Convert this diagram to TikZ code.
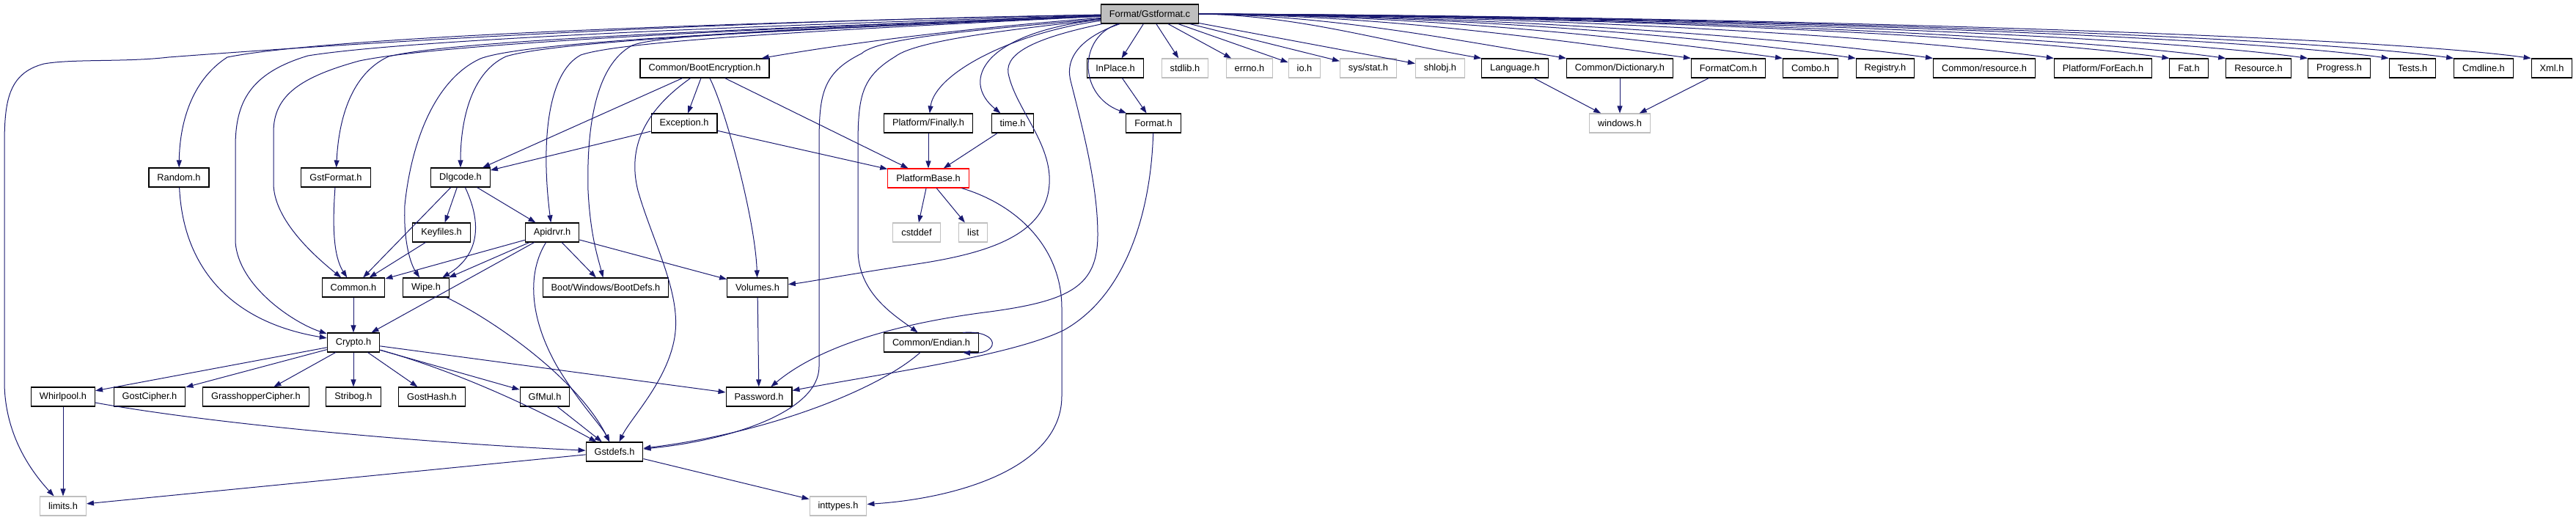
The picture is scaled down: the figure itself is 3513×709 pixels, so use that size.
\documentclass[tikz,border=0pt]{standalone}
\usepackage{fontspec}
\setmainfont{Liberation Sans}
\usetikzlibrary{arrows.meta}
\definecolor{edgeblue}{HTML}{191970}
\definecolor{extgray}{HTML}{BFBFBF}

\begin{document}
\begin{tikzpicture}[x=1pt, y=-1pt,
  filebox/.style={draw=black, line width=1.1pt, fill=white, inner xsep=11.5pt, inner ysep=0pt, minimum height=26pt, font=\fontsize{12.8}{15}\selectfont},
  extbox/.style={filebox, draw=extgray},
  rootbox/.style={filebox, fill=extgray},
  redbox/.style={filebox, draw=red},
  dep/.style={-{Triangle[length=10pt,width=7pt]}, draw=edgeblue, line width=1pt}
]
\useasboundingbox (0,0) rectangle (3513,709);

% Root
\node[rootbox] (root) at (1568,19) {Format/Gstformat.c};

% Row 1
\node[filebox] (bootenc) at (961,93) {Common/BootEncryption.h};
\node[filebox] (inplace) at (1521,93) {InPlace.h};
\node[extbox] (stdlib) at (1616,93) {stdlib.h};
\node[extbox] (errno) at (1704,93) {errno.h};
\node[extbox] (io) at (1779,93) {io.h};
\node[extbox] (sysstat) at (1866,93) {sys/stat.h};
\node[extbox] (shlobj) at (1964,93) {shlobj.h};
\node[filebox] (language) at (2066,93) {Language.h};
\node[filebox] (dict) at (2209,93) {Common/Dictionary.h};
\node[filebox] (formatcom) at (2357,93) {FormatCom.h};
\node[filebox] (combo) at (2469,93) {Combo.h};
\node[filebox] (registry) at (2571,93) {Registry.h};
\node[filebox] (commonres) at (2706,93) {Common/resource.h};
\node[filebox] (foreach) at (2868,93) {Platform/ForEach.h};
\node[filebox] (fat) at (2985,93) {Fat.h};
\node[filebox] (resource) at (3080,93) {Resource.h};
\node[filebox] (progress) at (3190,93) {Progress.h};
\node[filebox] (tests) at (3290,93) {Tests.h};
\node[filebox] (cmdline) at (3387,93) {Cmdline.h};
\node[filebox] (xml) at (3480,93) {Xml.h};

% Row 2
\node[filebox] (exception) at (933,168) {Exception.h};
\node[filebox] (finally) at (1266,168) {Platform/Finally.h};
\node[filebox] (timeh) at (1381,168) {time.h};
\node[filebox] (format) at (1573,168) {Format.h};
\node[extbox] (windows) at (2209,168) {windows.h};

% Row 3
\node[filebox] (random) at (244,242) {Random.h};
\node[filebox] (gstformat) at (458,242) {GstFormat.h};
\node[filebox] (dlgcode) at (628,242) {Dlgcode.h};
\node[redbox] (platbase) at (1266,243) {PlatformBase.h};

% Row 4
\node[filebox] (keyfiles) at (602,317) {Keyfiles.h};
\node[filebox] (apidrvr) at (753,317) {Apidrvr.h};
\node[extbox] (cstddef) at (1250,317) {cstddef};
\node[extbox] (list) at (1327,317) {list};

% Row 5
\node[filebox] (common) at (482,392) {Common.h};
\node[filebox] (wipe) at (581,392) {Wipe.h};
\node[filebox] (bootdefs) at (826,392) {Boot/Windows/BootDefs.h};
\node[filebox] (volumes) at (1033,392) {Volumes.h};

% Row 6
\node[filebox] (crypto) at (482,467) {Crypto.h};
\node[filebox] (endian) at (1270,467) {Common/Endian.h};

% Row 7
\node[filebox] (whirlpool) at (86,541) {Whirlpool.h};
\node[filebox] (gostcipher) at (204,541) {GostCipher.h};
\node[filebox] (grasshopper) at (349,541) {GrasshopperCipher.h};
\node[filebox] (stribog) at (482,541) {Stribog.h};
\node[filebox] (gosthash) at (589,541) {GostHash.h};
\node[filebox] (gfmul) at (743,541) {GfMul.h};
\node[filebox] (password) at (1035,541) {Password.h};

% Row 8
\node[filebox] (gstdefs) at (838,616) {Gstdefs.h};

% Row 9
\node[extbox] (limits) at (86,690) {limits.h};
\node[extbox] (inttypes) at (1143,690) {inttypes.h};

% Root, left side
\draw[dep] (root) .. controls (900,30) and (400,65) .. (230,78) .. controls (170,85) and (100,80) .. (60,87) .. controls (10,100) and (6,140) .. (6,200) -- (6,520) .. controls (6,590) and (40,640) .. (limits);
\draw[dep] (root) .. controls (1000,30) and (450,50) .. (310,78) .. controls (260,110) and (245,170) .. (random);
\draw[dep] (root) .. controls (1000,35) and (550,55) .. (420,76) .. controls (340,100) and (321,140) .. (321,200) -- (321,330) .. controls (325,390) and (400,440) .. (crypto);
\draw[dep] (root) .. controls (1000,40) and (600,60) .. (490,83) .. controls (410,105) and (373,130) .. (373,180) -- (373,250) .. controls (373,300) and (430,350) .. (common);
\draw[dep] (root) .. controls (1000,40) and (620,55) .. (530,77) .. controls (480,100) and (462,160) .. (gstformat);
\draw[dep] (root) .. controls (1100,40) and (760,55) .. (690,77) .. controls (640,100) and (628,170) .. (dlgcode);
\draw[dep] (root) .. controls (1100,40) and (720,55) .. (655,80) .. controls (590,110) and (560,200) .. (552,280) .. controls (550,330) and (560,360) .. (wipe);
\draw[dep] (root) .. controls (1150,40) and (850,55) .. (792,75) .. controls (745,100) and (738,200) .. (apidrvr);
\draw[dep] (root) .. controls (1200,35) and (900,45) .. (862,62) .. controls (810,90) and (800,180) .. (802,260) .. controls (805,320) and (815,350) .. (bootdefs);
\draw[dep] (root) .. controls (1300,40) and (1150,60) .. (bootenc);
\draw[dep] (root) .. controls (1350,40) and (1200,50) .. (1175,73) .. controls (1120,100) and (1117,130) .. (1117,200) -- (1117,500) .. controls (1117,560) and (1000,600) .. (gstdefs);
\draw[dep] (root) .. controls (1380,40) and (1250,55) .. (1221,77) .. controls (1175,105) and (1170,130) .. (1170,200) -- (1170,340) .. controls (1170,400) and (1220,430) .. (endian);
\draw[dep] (root) .. controls (1380,45) and (1275,100) .. (finally);
\draw[dep] (root) .. controls (1340,45) and (1310,110) .. (timeh);
\draw[dep] (root) .. controls (1420,50) and (1370,70) .. (1375,100) .. controls (1385,150) and (1440,200) .. (1430,260) .. controls (1420,320) and (1350,345) .. (1250,360) .. controls (1150,375) and (1100,385) .. (volumes);
\draw[dep] (root) .. controls (1490,45) and (1450,70) .. (1460,110) .. controls (1475,170) and (1497,250) .. (1497,320) .. controls (1497,390) and (1460,410) .. (1350,425) .. controls (1230,440) and (1120,470) .. (password);
\draw[dep] (root) .. controls (1470,50) and (1470,130) .. (format);

% Root, right side
\draw[dep] (root) -- (inplace);
\draw[dep] (root) -- (stdlib);
\draw[dep] (root) -- (errno);
\draw[dep] (root) -- (io);
\draw[dep] (root) -- (sysstat);
\draw[dep] (root) -- (shlobj);
\draw[dep] (root.east) .. controls (1770,21) and (1880,55) .. (language.north west);
\draw[dep] (root.east) .. controls (1810,21) and (1960,50) .. (dict.north west);
\draw[dep] (root.east) .. controls (1870,21) and (2080,48) .. (formatcom.north west);
\draw[dep] (root.east) .. controls (1915,21) and (2190,46) .. (combo.north west);
\draw[dep] (root.east) .. controls (1950,21) and (2290,45) .. (registry.north west);
\draw[dep] (root.east) .. controls (1985,21) and (2390,45) .. (commonres.north west);
\draw[dep] (root.east) .. controls (2043,21) and (2550,45) .. (foreach.north west);
\draw[dep] (root.east) .. controls (2098,21) and (2709,45) .. (fat.north west);
\draw[dep] (root.east) .. controls (2125,21) and (2786,45) .. (resource.north west);
\draw[dep] (root.east) .. controls (2165,21) and (2897,45) .. (progress.north west);
\draw[dep] (root.east) .. controls (2200,21) and (3007,45) .. (tests.north west);
\draw[dep] (root.east) .. controls (2235,21) and (3097,45) .. (cmdline.north west);
\draw[dep] (root.east) .. controls (2270,21) and (3202,45) .. (xml.north west);

% Common/BootEncryption.h
\draw[dep] (bootenc) -- (dlgcode);
\draw[dep] (bootenc) -- (exception);
\draw[dep] (bootenc) -- (platbase);
\draw[dep] (bootenc) .. controls (990,150) and (1030,300) .. (volumes);
\draw[dep] (bootenc) .. controls (880,150) and (855,200) .. (870,260) .. controls (890,330) and (930,400) .. (920,460) .. controls (910,520) and (860,570) .. (gstdefs);

% Exception.h, Finally, time.h
\draw[dep] (exception) -- (dlgcode);
\draw[dep] (exception) -- (platbase);
\draw[dep] (finally) -- (platbase);
\draw[dep] (timeh) -- (platbase);

% PlatformBase.h
\draw[dep] (platbase) -- (cstddef);
\draw[dep] (platbase) -- (list);
\draw[dep] (platbase) .. controls (1390,280) and (1448,340) .. (1448,420) -- (1448,540) .. controls (1448,640) and (1300,680) .. (inttypes);

% InPlace.h, Format.h
\draw[dep] (inplace) -- (format);
\draw[dep] (format) .. controls (1570,280) and (1540,400) .. (1451,450) .. controls (1380,485) and (1200,510) .. (password);

% windows.h
\draw[dep] (language) -- (windows);
\draw[dep] (dict) -- (windows);
\draw[dep] (formatcom) -- (windows);

% Dlgcode.h
\draw[dep] (dlgcode) -- (keyfiles);
\draw[dep] (dlgcode) -- (apidrvr);
\draw[dep] (dlgcode) -- (common);
\draw[dep] (dlgcode) .. controls (660,310) and (650,350) .. (wipe);
\draw[dep] (keyfiles) -- (common);
\draw[dep] (random) .. controls (250,370) and (320,440) .. (crypto);
\draw[dep] (gstformat) .. controls (453,310) and (455,350) .. (common);

% Apidrvr.h
\draw[dep] (apidrvr) -- (common);
\draw[dep] (apidrvr) -- (wipe);
\draw[dep] (apidrvr) -- (crypto);
\draw[dep] (apidrvr) -- (bootdefs);
\draw[dep] (apidrvr) -- (volumes);
\draw[dep] (apidrvr) .. controls (720,370) and (720,430) .. (760,500) .. controls (790,550) and (820,580) .. (gstdefs);

% Common.h, Wipe.h, Volumes.h
\draw[dep] (common) -- (crypto);
\draw[dep] (wipe) .. controls (680,440) and (790,520) .. (gstdefs);
\draw[dep] (volumes) -- (password);

% Crypto.h
\draw[dep] (crypto) -- (whirlpool);
\draw[dep] (crypto) -- (gostcipher);
\draw[dep] (crypto) -- (grasshopper);
\draw[dep] (crypto) -- (stribog);
\draw[dep] (crypto) -- (gosthash);
\draw[dep] (crypto) -- (gfmul);
\draw[dep] (crypto) -- (password);
\draw[dep] (crypto) .. controls (600,500) and (700,540) .. (gstdefs);

% Common/Endian.h
\draw[dep] (endian) .. controls (1200,530) and (1050,590) .. (gstdefs);
\draw[dep] ([xshift=-22pt]endian.north east) .. controls +(52,-4) and +(52,4) .. ([xshift=-22pt]endian.south east);

% Lower rows
\draw[dep] (whirlpool) -- (limits);
\draw[dep] (whirlpool) .. controls (300,580) and (600,605) .. (gstdefs);
\draw[dep] (gfmul) -- (gstdefs);
\draw[dep] (gstdefs) -- (limits);
\draw[dep] (gstdefs) -- (inttypes);

\end{tikzpicture}
\end{document}
